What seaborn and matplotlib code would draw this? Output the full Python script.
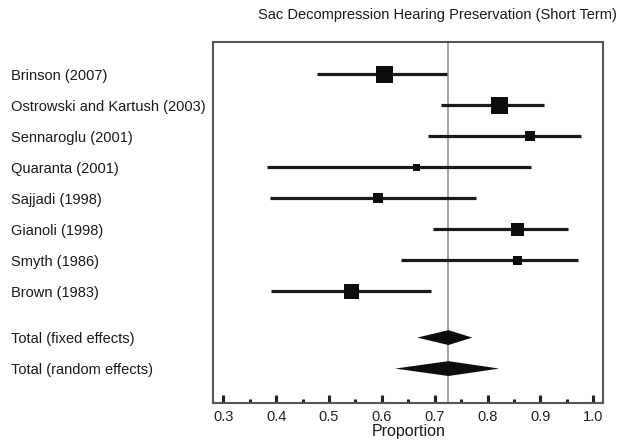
import numpy as np
import pandas as pd
import matplotlib
matplotlib.use("Agg")
import matplotlib.pyplot as plt
from matplotlib.ticker import MultipleLocator
import seaborn as sns

# Study-level estimates of hearing preservation proportion
studies = ["Brinson (2007)", "Ostrowski and Kartush (2003)", "Sennaroglu (2001)",
           "Quaranta (2001)", "Sajjadi (1998)", "Gianoli (1998)", "Smyth (1986)",
           "Brown (1983)"]
estimates = [0.605, 0.823, 0.880, 0.666, 0.592, 0.856, 0.856, 0.543]
ci_low = [0.478, 0.712, 0.688, 0.383, 0.388, 0.697, 0.636, 0.390]
ci_high = [0.723, 0.906, 0.977, 0.882, 0.778, 0.952, 0.971, 0.693]
weights = [17, 17, 10, 7, 10, 13, 9, 15]

# Pooled estimates
pooled_labels = ["Total (fixed effects)", "Total (random effects)"]
pooled_est = [0.726, 0.726]
pooled_low = [0.667, 0.625]
pooled_high = [0.771, 0.822]

tick_values = [0.3, 0.4, 0.5, 0.6, 0.7, 0.8, 0.9, 1.0]

sns.set_theme(style="white")
plt.rcParams["font.family"] = ["Liberation Sans", "DejaVu Sans"]

study_rows = list(range(len(studies)))
pooled_rows = [len(studies) + 0.5, len(studies) + 1.5]

df = pd.DataFrame({"study": studies, "est": estimates, "lo": ci_low,
                   "hi": ci_high, "w": weights, "row": study_rows})

fig = plt.figure(figsize=(6.2, 4.47), dpi=100)
ax = fig.add_axes([0.344, 0.0978, 0.629, 0.809])

# Reference line at the pooled estimate
ax.axvline(pooled_est[0], color="#8a8a8a", lw=1.1, zorder=1)

# Confidence intervals
ax.hlines(df["row"], df["lo"], df["hi"], color="#1a1a1a", lw=2.3, zorder=2)

# Weighted squares
size_map = {w: (w * 0.72) ** 2 for w in weights}
sns.scatterplot(data=df, x="est", y="row", size="w", sizes=size_map,
                marker="s", color="#0d0d0d", edgecolor="none", legend=False,
                ax=ax, zorder=3)

# Pooled diamonds
half_h = 0.24
for r, lo, c, hi in zip(pooled_rows, pooled_low, pooled_est, pooled_high):
    ax.fill([lo, c, hi, c], [r, r - half_h, r, r + half_h],
            color="#0d0d0d", lw=0, zorder=3)

ax.set_xlim(0.281, 1.019)
ax.set_ylim(10.62, -1.05)

ax.set_xticks(tick_values)
ax.set_xticklabels([f"{v:.1f}" for v in tick_values], fontsize=10.5, color="#222222")
ax.xaxis.set_minor_locator(MultipleLocator(0.05))
ax.tick_params(axis="x", which="major", direction="in", length=5.8, width=2.2,
               color="#222222", pad=5, bottom=True)
ax.tick_params(axis="x", which="minor", direction="in", length=3.0, width=2.2,
               color="#222222", bottom=True)

ax.set_yticks(study_rows + pooled_rows)
ax.set_yticklabels(studies + pooled_labels, fontsize=10.5, color="#1a1a1a",
                   ha="left")
ax.tick_params(axis="y", length=0, pad=146)

ax.set_xlabel("Proportion", fontsize=11.5, color="#1a1a1a", labelpad=0)
ax.set_ylabel("")

for s in ax.spines.values():
    s.set_visible(True)
    s.set_color("#555555")
    s.set_linewidth(1.5)

fig.text(437 / 620, 1 - 15 / 447, "Sac Decompression Hearing Preservation (Short Term)",
         ha="center", va="center", fontsize=10.5, color="#1a1a1a")

fig.savefig("out.png", dpi=100, facecolor="white")
